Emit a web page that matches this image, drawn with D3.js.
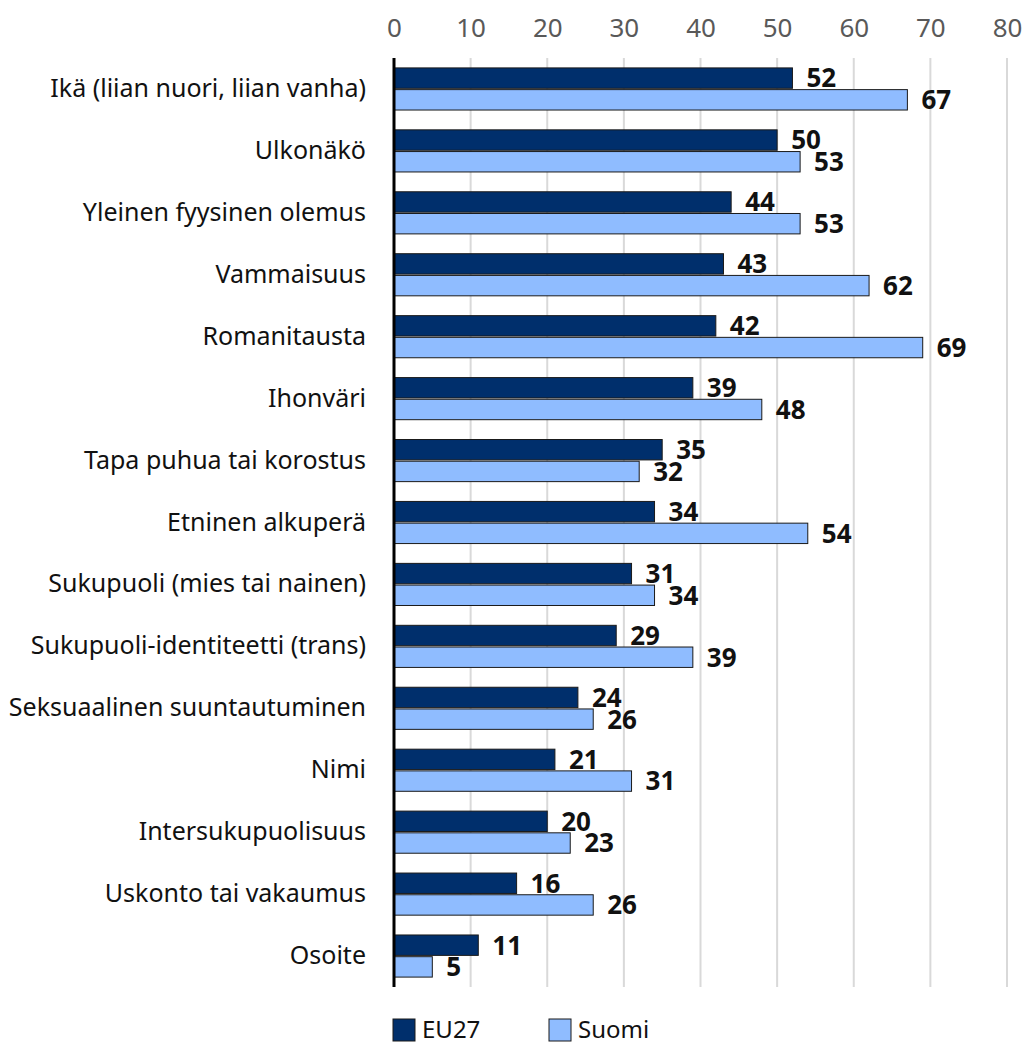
<!DOCTYPE html>
<html>
<head>
<meta charset="utf-8">
<script src="https://cdn.jsdelivr.net/npm/d3@7"></script>
<style>
  body { margin: 0; background: #fff; }
  svg { display: block; font-family: "Noto Sans", sans-serif; }
</style>
</head>
<body>
<svg width="1026" height="1043"></svg>
<script>
let width = 1026, height = 1043;

// data
const categories = [
    "Ikä (liian nuori, liian vanha)", "Ulkonäkö", "Yleinen fyysinen olemus",
    "Vammaisuus", "Romanitausta", "Ihonväri", "Tapa puhua tai korostus",
    "Etninen alkuperä", "Sukupuoli (mies tai nainen)", "Sukupuoli-identiteetti (trans)",
    "Seksuaalinen suuntautuminen", "Nimi", "Intersukupuolisuus",
    "Uskonto tai vakaumus", "Osoite"
];
const eu27 = [52, 50, 44, 43, 42, 39, 35, 34, 31, 29, 24, 21, 20, 16, 11];
const suomi = [67, 53, 53, 62, 69, 48, 32, 54, 34, 39, 26, 31, 23, 26, 5];
const seriesNames = ["EU27", "Suomi"];
const seriesColors = ["#002f6c", "#8fbcff"];
const tickValues = [0, 10, 20, 30, 40, 50, 60, 70, 80];

let rows = categories.map((c, i) => ({ cat: c, values: [eu27[i], suomi[i]] }));

let svg = d3.select("svg");

let x = d3.scaleLinear().domain([0, 80]).range([394, 1007]);
let y = d3.scaleBand().domain(categories).range([58, 987])
    .paddingInner(0.32).paddingOuter(0.16);
let ySub = d3.scaleBand().domain([0, 1]).range([0, y.bandwidth()]).paddingInner(0.06);

// grid lines
svg.append("g")
    .selectAll("line")
    .data(tickValues.slice(1))
    .enter()
    .append("line")
    .attr("x1", d => x(d)).attr("x2", d => x(d))
    .attr("y1", 58).attr("y2", 987)
    .attr("stroke", "#d9d9d9")
    .attr("stroke-width", 2);

// top axis tick labels
let xAxis = svg.append("g")
    .attr("transform", "translate(0,37)")
    .call(d3.axisTop(x).tickValues(tickValues).tickSize(0).tickPadding(0));
xAxis.select(".domain").remove();
xAxis.selectAll("text")
    .attr("font-size", 26)
    .attr("font-family", "Noto Sans")
    .attr("fill", "#595959");

// bars
let group = svg.append("g")
    .selectAll("g")
    .data(rows)
    .enter()
    .append("g")
    .attr("transform", d => `translate(0,${y(d.cat)})`);

group.selectAll("rect")
    .data(d => d.values)
    .enter()
    .append("rect")
    .attr("x", x(0))
    .attr("y", (d, i) => ySub(i))
    .attr("width", d => x(d) - x(0))
    .attr("height", ySub.bandwidth())
    .attr("fill", (d, i) => seriesColors[i])
    .attr("stroke", "#1a1a1a")
    .attr("stroke-width", 1);

group.selectAll("text")
    .data(d => d.values)
    .enter()
    .append("text")
    .attr("x", d => x(d) + 14)
    .attr("y", (d, i) => ySub(i) + ySub.bandwidth() / 2)
    .attr("dy", "0.36em")
    .attr("font-size", 26)
    .attr("font-weight", "bold")
    .attr("fill", "#111")
    .text(d => d);

// category labels
let yAxis = svg.append("g")
    .attr("transform", `translate(${x(0)},0)`)
    .call(d3.axisLeft(y).tickSize(0).tickPadding(28));
yAxis.select(".domain").remove();
yAxis.selectAll("text")
    .attr("font-size", 25)
    .attr("font-family", "Noto Sans")
    .attr("fill", "#111");

// vertical axis line
svg.append("line")
    .attr("x1", x(0)).attr("x2", x(0))
    .attr("y1", 58).attr("y2", 987)
    .attr("stroke", "#000")
    .attr("stroke-width", 3);

// legend
let legend = svg.append("g")
    .selectAll("g")
    .data(seriesNames)
    .enter()
    .append("g")
    .attr("transform", (d, i) => `translate(${393 + i * 156},1019)`);

legend.append("rect")
    .attr("width", 22).attr("height", 22)
    .attr("fill", (d, i) => seriesColors[i])
    .attr("stroke", "#1a1a1a");

legend.append("text")
    .attr("x", 29)
    .attr("y", 11)
    .attr("dy", "0.34em")
    .attr("font-size", 24)
    .attr("fill", "#111")
    .text(d => d);
</script>
</body>
</html>
